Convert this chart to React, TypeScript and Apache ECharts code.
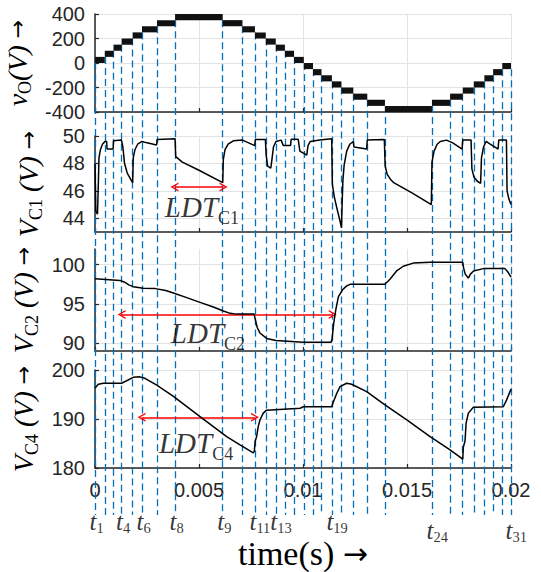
import React, { useEffect, useRef } from "react";
import * as echarts from "echarts";

// ---------- data ----------
// times of the 31 switching instants t1..t31 (blue dashed lines)
const tLines = [
  0, 0.00047, 0.00089, 0.00128, 0.00181, 0.00226, 0.00298, 0.00385, 0.00614, 0.00709,
  0.00769, 0.00821, 0.00869, 0.00913, 0.00957, 0.01004, 0.01048, 0.01089, 0.01139, 0.01185,
  0.01242, 0.01309, 0.01394, 0.0162, 0.01707, 0.01768, 0.01821, 0.01872, 0.01914, 0.01958, 0.02,
];
const tLabelIdx = [1, 4, 6, 8, 9, 11, 13, 19, 24, 31];
const tLabelLowered = [24, 31];

// vO : lower level of the PWM band between consecutive switching instants (V)
const vOBandLow = [
  0, 50, 100, 150, 200, 250, 300, 350, 300, 250, 200, 150, 100, 50, 0,
  -50, -100, -150, -200, -250, -300, -350, -400, -350, -300, -250, -200, -150, -100, -50,
];
const vOStep = 50;

const vC1 = [
  [0, 48.0], [0.00004, 44.5], [0.00012, 44.3], [0.00016, 46.5], [0.00019, 48.4], [0.00026, 49.0],
  [0.00036, 49.4], [0.00048, 49.6], [0.00056, 49.6], [0.00058, 49.05], [0.00087, 49.05], [0.00089, 49.65],
  [0.00127, 49.7], [0.00134, 49.2], [0.00142, 48.0], [0.00155, 47.3], [0.0017, 46.9], [0.00181, 46.6],
  [0.00184, 48.4], [0.00192, 49.0], [0.00205, 49.4], [0.00226, 49.6], [0.0025, 49.5], [0.00296, 49.35],
  [0.00299, 49.75], [0.00385, 49.8], [0.00388, 48.5], [0.0042, 48.1], [0.005, 47.5], [0.00614, 46.6],
  [0.00617, 48.3], [0.00625, 49.0], [0.0064, 49.4], [0.00665, 49.65], [0.00709, 49.7], [0.00768, 49.3],
  [0.00771, 49.75], [0.00819, 49.75], [0.00823, 48.6], [0.0083, 47.8], [0.00845, 47.65], [0.0085, 48.2],
  [0.00858, 49.2], [0.0087, 49.6], [0.00895, 49.7], [0.00905, 49.3], [0.0094, 49.3], [0.00943, 49.76],
  [0.00977, 49.76], [0.00985, 48.9], [0.01018, 48.6], [0.01024, 49.3], [0.01035, 49.6], [0.0108, 49.7],
  [0.01138, 49.8], [0.01141, 46.5], [0.0115, 45.6], [0.01165, 44.6], [0.01178, 43.8], [0.01185, 43.3],
  [0.01188, 45.0], [0.01192, 46.8], [0.01198, 47.9], [0.0121, 48.9], [0.01225, 49.4], [0.01242, 49.6],
  [0.01245, 49.2], [0.01306, 49.05], [0.01309, 49.7], [0.01391, 49.75], [0.01395, 47.8], [0.01405, 47.2],
  [0.0142, 46.85], [0.01436, 46.6], [0.0153, 45.8], [0.01617, 45.0], [0.0162, 48.1], [0.0163, 48.9],
  [0.01645, 49.4], [0.0166, 49.6], [0.0169, 49.7], [0.0172, 49.5], [0.01765, 49.05], [0.01768, 49.7],
  [0.01808, 49.7], [0.01812, 47.6], [0.01822, 47.0], [0.01838, 46.7], [0.01854, 46.55], [0.01858, 48.4],
  [0.01868, 49.2], [0.0188, 49.6], [0.019, 49.4], [0.01938, 49.05], [0.01941, 49.7], [0.01978, 49.7],
  [0.01981, 46.0], [0.0199, 45.4], [0.02, 45.0],
];

const vC2 = [
  [0, 98.2], [0.0012, 98.0], [0.0014, 97.8], [0.00165, 97.4], [0.00184, 97.2], [0.00232, 97.0],
  [0.0029, 96.95], [0.0034, 96.7], [0.00377, 96.4], [0.00441, 95.8], [0.00505, 95.2], [0.00569, 94.6],
  [0.00617, 94.1], [0.0065, 93.8], [0.0068, 93.7], [0.00765, 93.7], [0.0077, 93.1], [0.0078, 92.0],
  [0.00793, 91.3], [0.00825, 90.6], [0.0087, 90.35], [0.01001, 90.1], [0.01135, 90.1], [0.0114, 90.6],
  [0.01148, 92.6], [0.01158, 94.3], [0.0117, 95.9], [0.0119, 96.8], [0.0121, 97.3], [0.01226, 97.5],
  [0.01394, 97.5], [0.01418, 98.15], [0.0145, 99.2], [0.01482, 99.8], [0.0153, 100.2], [0.01611, 100.3],
  [0.01768, 100.3], [0.01772, 99.6], [0.0178, 98.8], [0.01795, 98.3], [0.01805, 98.8], [0.0182, 99.2],
  [0.01867, 99.5], [0.01971, 99.5], [0.01987, 99.0], [0.02, 98.4],
];

const vC4 = [
  [0, 196.3], [0.00016, 197.1], [0.0004, 197.3], [0.00128, 197.3], [0.00152, 197.8], [0.00184, 198.5],
  [0.00216, 198.6], [0.0024, 198.3], [0.00297, 196.9], [0.00377, 194.6], [0.00505, 190.5], [0.00633, 186.4],
  [0.00697, 184.7], [0.00761, 183.1], [0.00766, 183.4], [0.0077, 185.5], [0.00777, 186.4], [0.00785, 188.5],
  [0.00793, 189.8], [0.00809, 191.2], [0.00825, 191.8], [0.00986, 192.2], [0.01001, 192.5], [0.01138, 192.5],
  [0.01146, 193.5], [0.01162, 195.2], [0.01178, 196.6], [0.0121, 197.3], [0.01234, 197.1], [0.01306, 195.6],
  [0.01394, 192.9], [0.01499, 189.8], [0.01611, 186.4], [0.01707, 183.7], [0.01768, 181.8], [0.01771, 184.3],
  [0.01779, 185.5], [0.01784, 189.1], [0.01795, 191.2], [0.01819, 192.4], [0.01963, 192.5], [0.01979, 193.9],
  [0.02, 196.1],
];

// LDT annotations: [tStart, tEnd, level], label position [t, v]
const ldtC1 = { from: 0.00382, to: 0.00618, level: 46.28, label: [0.00514, 44.85], sub: "C1" };
const ldtC2 = { from: 0.00128, to: 0.01143, level: 93.65, label: [0.00543, 91.3], sub: "C2" };
const ldtC4 = { from: 0.00224, to: 0.00769, level: 190.35, label: [0.00486, 185.1], sub: "C4" };

// ---------- layout ----------
const LEFT = 95;
const WIDTH = 416;
const W = 541;
const H = 572;
const P1 = { top: 14, height: 98, min: -400, max: 400 };
const P2 = { top: 136, height: 96, min: 43, max: 50 };
const P3 = { top: 249, height: 102, min: 89, max: 102 };
const P4 = { top: 370, height: 98, min: 180, max: 200 };
const DASH_BOTTOM_PX = 515;
const TLABEL_PX = 522;
const TLABEL_LOW_PX = 531;

const SERIF = "'Liberation Serif', 'DejaVu Serif', serif";
const SANS = "'Liberation Sans', Arial, sans-serif";
const ARROW_FONT = "'DejaVu Sans', sans-serif";
const AXIS_COLOR = "#262626";
const GRID_COLOR = "#e3e3e3";
const BLUE = "#0072BD";
const RED = "#ff0000";

const chevron = "path://M0,10 L5,0 L10,10 L8.4,10 L5,3.2 L1.6,10 Z";

export default function App() {
  const ref = useRef<HTMLDivElement>(null);

  useEffect(() => {
    if (!ref.current) return;
    const chart = echarts.init(ref.current, undefined, { renderer: "svg" });

    const panels = [P1, P2, P3, P4];
    const grids: any[] = panels.map((p) => ({
      left: LEFT,
      width: WIDTH,
      top: p.top,
      height: p.height,
      outerBoundsMode: "none",
    }));
    // overlay grid in vO units, spanning the full height below P1 top
    const vPerPx = (P1.max - P1.min) / P1.height;
    const overlayMin = P1.max - (H - P1.top) * vPerPx;
    grids.push({ left: LEFT, width: WIDTH, top: P1.top, height: H - P1.top, outerBoundsMode: "none" });
    const pxToV = (px: number) => P1.max - (px - P1.top) * vPerPx;

    const baseX = (i: number) => ({
      type: "value",
      gridIndex: i,
      min: 0,
      max: 0.02,
      interval: 0.005,
      axisLine: { show: true, onZero: false, lineStyle: { color: AXIS_COLOR, width: 1.5 } },
      axisTick: { show: true, inside: true, length: 4, lineStyle: { color: AXIS_COLOR, width: 1.2 } },
      splitLine: { show: true, lineStyle: { color: GRID_COLOR, width: 1 } },
      axisLabel: {
        show: i === 3,
        fontFamily: SANS,
        fontSize: 20,
        color: AXIS_COLOR,
        margin: 12,
      },
    });
    const xAxes: any[] = [0, 1, 2, 3].map(baseX);
    Object.assign(xAxes[3], {
      name: "{m|time(s) }{a|→}",
      nameLocation: "middle",
      nameGap: 69,
      nameTextStyle: {
        rich: {
          m: { fontFamily: SERIF, fontSize: 34, lineHeight: 32, color: "#000" },
          a: { fontFamily: ARROW_FONT, fontSize: 30, lineHeight: 32, color: "#000" },
        },
      },
    });
    xAxes.push({ type: "value", gridIndex: 4, min: 0, max: 0.02, show: false });

    const yName = (main: string, sub: string, rest: string) => ({
      name: `{i|${main}}{s|${sub}}{i|${rest}}{a|→}`,
      nameLocation: "middle",
      nameRotate: 90,
      nameGap: 50,
      nameTextStyle: {
        rich: {
          i: { fontFamily: SERIF, fontStyle: "italic", fontSize: 28, lineHeight: 34, color: "#000" },
          s: { fontFamily: SERIF, fontSize: 18, lineHeight: 16, verticalAlign: "bottom", color: "#000" },
          a: { fontFamily: ARROW_FONT, fontSize: 22, lineHeight: 34, color: "#000" },
        },
      },
    });

    const tickStyle = { show: true, inside: true, length: 4, lineStyle: { color: AXIS_COLOR, width: 1.2 } };
    const baseY = (i: number, p: any, extra: any, nm: any) => ({
      type: "value",
      gridIndex: i,
      min: p.min,
      max: p.max,
      axisLine: { show: true, lineStyle: { color: AXIS_COLOR, width: 1.5 } },
      axisTick: { ...tickStyle, ...(extra.custom ? { customValues: extra.custom } : {}) },
      splitLine: { show: true, lineStyle: { color: GRID_COLOR, width: 1 } },
      axisLabel: {
        fontFamily: SANS,
        fontSize: 20,
        color: AXIS_COLOR,
        margin: 10,
        ...(extra.custom ? { customValues: extra.custom } : {}),
      },
      ...(extra.interval ? { interval: extra.interval } : {}),
      ...nm,
    });

    const yAxes: any[] = [
      baseY(0, P1, { interval: 200 }, yName("v", "O", "(V) ")),
      baseY(1, P2, { custom: [44, 46, 48, 50] }, yName("V", "C1", " (V) ")),
      baseY(2, P3, { custom: [90, 95, 100] }, yName("V", "C2", " (V) ")),
      baseY(3, P4, { interval: 10 }, yName("V", "C4", " (V) ")),
      { type: "value", gridIndex: 4, min: overlayMin, max: P1.max, show: false },
    ];

    // bands of vO
    const bandData = vOBandLow.map((lo, i) => [tLines[i], tLines[i + 1], lo, lo + vOStep]);

    // dashed lines: start at the lower edge of the higher adjacent band
    const dashData = tLines.map((t, i) => {
      const cands: number[] = [];
      if (i > 0) cands.push(vOBandLow[i - 1]);
      if (i < vOBandLow.length) cands.push(vOBandLow[i]);
      const top = Math.max(...cands);
      return [{ coord: [t, top] }, { coord: [t, pxToV(DASH_BOTTOM_PX)] }];
    });

    const tLabelData = tLabelIdx.map((n) => ({
      value: [tLines[n - 1], pxToV(tLabelLowered.includes(n) ? TLABEL_LOW_PX : TLABEL_PX)],
      name: String(n),
    }));

    const ldtSeries = (ldt: any, gi: number) => [
      {
        type: "line",
        xAxisIndex: gi,
        yAxisIndex: gi,
        data: [],
        silent: true,
        z: 6,
        markLine: {
          silent: true,
          symbol: [chevron, chevron],
          symbolSize: [9, 8],
          label: { show: false },
          lineStyle: { color: RED, width: 1.5, type: "solid" },
          itemStyle: { color: RED },
          data: [[{ coord: [ldt.from, ldt.level] }, { coord: [ldt.to, ldt.level] }]],
        },
      },
      {
        type: "scatter",
        xAxisIndex: gi,
        yAxisIndex: gi,
        symbolSize: 0,
        silent: true,
        z: 6,
        data: [ldt.label],
        label: {
          show: true,
          position: "inside",
          formatter: `{a|LDT}{b|${ldt.sub}}`,
          rich: {
            a: { fontFamily: SERIF, fontStyle: "italic", fontSize: 29, lineHeight: 40, color: "#000" },
            b: { fontFamily: SERIF, fontSize: 18, lineHeight: 16, verticalAlign: "bottom", color: "#000" },
          },
        },
      },
    ];

    const lineSeries = (data: number[][], gi: number) => ({
      type: "line",
      xAxisIndex: gi,
      yAxisIndex: gi,
      data,
      showSymbol: false,
      symbol: "none",
      silent: true,
      z: 5,
      lineStyle: { color: "#000", width: 1.5 },
    });

    const option: any = {
      animation: false,
      backgroundColor: "#fff",
      grid: grids,
      xAxis: xAxes,
      yAxis: yAxes,
      series: [
        {
          type: "line",
          xAxisIndex: 4,
          yAxisIndex: 4,
          data: [],
          silent: true,
          z: 1,
          markLine: {
            silent: true,
            symbol: ["none", "none"],
            label: { show: false },
            lineStyle: { color: BLUE, width: 1.3, type: [7, 4] },
            data: dashData,
          },
        },
        {
          type: "scatter",
          xAxisIndex: 4,
          yAxisIndex: 4,
          symbolSize: 1,
          silent: true,
          z: 1,
          itemStyle: { color: "rgba(0,0,0,0)" },
          data: tLabelData,
          label: {
            show: true,
            position: [-5, -14],
            formatter: (p: any) => `{t|t}{s|${p.name}}`,
            rich: {
              t: { fontFamily: SERIF, fontStyle: "italic", fontSize: 25, lineHeight: 28, color: "#000" },
              s: { fontFamily: SERIF, fontSize: 14.5, lineHeight: 12, verticalAlign: "bottom", color: "#000" },
            },
          },
        },
        {
          type: "custom",
          xAxisIndex: 0,
          yAxisIndex: 0,
          z: 5,
          silent: true,
          data: bandData,
          encode: { x: [0, 1], y: [2, 3] },
          renderItem: (params: any, api: any) => {
            const p0 = api.coord([api.value(0), api.value(3)]);
            const p1 = api.coord([api.value(1), api.value(2)]);
            return {
              type: "rect",
              shape: { x: p0[0], y: p0[1], width: p1[0] - p0[0], height: p1[1] - p0[1] },
              style: { fill: "#111" },
            };
          },
        },
        lineSeries(vC1, 1),
        lineSeries(vC2, 2),
        lineSeries(vC4, 3),
        ...ldtSeries(ldtC1, 1),
        ...ldtSeries(ldtC2, 2),
        ...ldtSeries(ldtC4, 3),
      ],
    };

    chart.setOption(option);
    return () => chart.dispose();
  }, []);

  return (
    <div
      ref={ref}
      style={{ position: "fixed", left: 0, top: 0, width: W, height: H, background: "#fff" }}
    />
  );
}
